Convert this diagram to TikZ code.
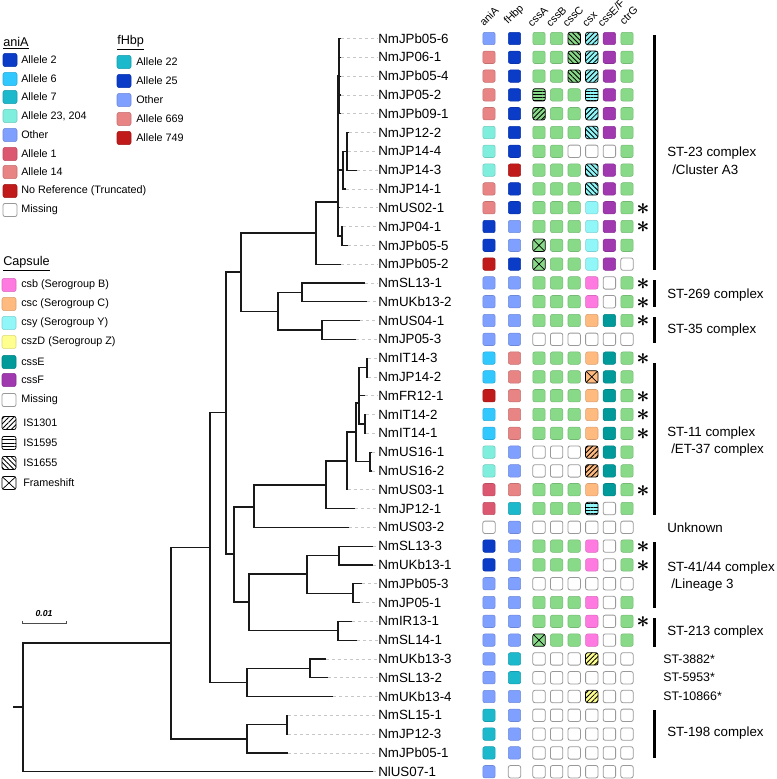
\documentclass[tikz,border=0pt]{standalone}
\usepackage{fontspec}
\setmainfont{Liberation Sans}
\usetikzlibrary{patterns.meta}
\definecolor{cG}{HTML}{88DA88}
\definecolor{cDB}{HTML}{0A3CC8}
\definecolor{cA6}{HTML}{30C8FF}
\definecolor{cA7}{HTML}{1CB8CC}
\definecolor{cAq}{HTML}{80EEDD}
\definecolor{cLB}{HTML}{80A0FF}
\definecolor{cA1}{HTML}{DC5870}
\definecolor{cA14}{HTML}{E88484}
\definecolor{cRd}{HTML}{C01A1A}
\definecolor{cMg}{HTML}{FF7AE0}
\definecolor{cOr}{HTML}{FFBA80}
\definecolor{cCy}{HTML}{90F6F8}
\definecolor{cYe}{HTML}{FFFF90}
\definecolor{cTe}{HTML}{009A9A}
\definecolor{cPu}{HTML}{A038B0}
\newcommand\rowy[1]{38.5+(#1-1)*18.8}
\newcommand\mrow[9]{%
  \pgfmathsetmacro\ry{\rowy{#1}}%
  \node[cell,#2] (a#1) at (489,\ry) {};
  \node[cell,#3] (f#1) at (514.5,\ry) {};
  \node[cell,#4] (k#1a) at (539,\ry) {};
  \node[cell,#5] (k#1b) at (556.6,\ry) {};
  \node[cell,#6] (k#1c) at (574.2,\ry) {};
  \node[cell,#7] (k#1d) at (591.8,\ry) {};
  \node[cell,#8] (k#1e) at (609.4,\ry) {};
  \node[cell,#9] (k#1f) at (627,\ry) {};
}
\newcommand\lrow[3]{%
  \pgfmathsetmacro\ry{\rowy{#1}}%
  \coordinate (t#1) at (#3,\ry);
  \node[lbl] (l#1) at (378,\ry) {#2};
  \draw[leader] (t#1) -- (l#1.west);
}
\newcommand\astr[1]{%
  \pgfmathsetmacro\ry{\rowy{#1}}%
  \node[starn] (s#1) at (643,\ry+1) {$\ast$};
}
\begin{document}
\begin{tikzpicture}[x=0.75pt,y=-0.75pt,
  cellst/.style={#1},
  cell/.style={rectangle,rounded corners=1.6pt,minimum size=9.3pt,inner sep=0pt,line width=0.4pt},
  colcell/.style={fill=#1,draw=#1!85!black},
  gr/.style={colcell=cG}, db/.style={colcell=cDB}, a6/.style={colcell=cA6},
  a7/.style={colcell=cA7}, aq/.style={colcell=cAq}, lb/.style={colcell=cLB},
  a1/.style={colcell=cA1}, a14/.style={colcell=cA14}, rd/.style={colcell=cRd},
  mg/.style={colcell=cMg}, or/.style={colcell=cOr}, cy/.style={colcell=cCy},
  ye/.style={colcell=cYe}, te/.style={colcell=cTe}, pu/.style={colcell=cPu},
  ms/.style={fill=white,draw=black!40,line width=0.6pt},
  ia/.style={draw=black,line width=0.55pt,postaction={pattern={Lines[angle=45,distance=2.6pt,line width=0.65pt]}}},
  ib/.style={draw=black,line width=0.55pt,postaction={pattern={Lines[angle=0,distance=2.4pt,line width=0.65pt]}}},
  ic/.style={draw=black,line width=0.55pt,postaction={pattern={Lines[angle=-45,distance=2.6pt,line width=0.65pt]}}},
  fs/.style={draw=black,line width=0.55pt,path picture={\draw[line width=0.55pt] (path picture bounding box.north west) -- (path picture bounding box.south east) (path picture bounding box.north east) -- (path picture bounding box.south west);}},
  lbl/.style={anchor=west,inner sep=0pt,font=\fontsize{10}{12}\selectfont},
  leader/.style={draw=black!22,line width=0.4pt,dash pattern=on 2.5pt off 2pt},
  branch/.style={draw=black!90,line width=0.9pt},
  starn/.style={inner sep=0pt,font=\fontsize{16}{16}\selectfont\boldmath},
  hdr/.style={anchor=base west,rotate=45,inner sep=0pt,font=\fontsize{8}{9}\selectfont},
  lbox/.style={rectangle,rounded corners=1.5pt,minimum width=10.5pt,minimum height=9.8pt,inner sep=0pt,line width=0.4pt},
  ltx/.style={anchor=west,inner sep=0pt,font=\fontsize{8.1}{10}\selectfont},
  ttl/.style={anchor=west,inner sep=0pt,font=\fontsize{9.5}{11}\selectfont},
  grp/.style={anchor=west,inner sep=0pt,font=\fontsize{10}{12}\selectfont},
  grps/.style={anchor=west,inner sep=0pt,font=\fontsize{9.3}{11}\selectfont},
  bar/.style={line width=2.3pt}
]
\useasboundingbox (0,0) rectangle (777,779);

% ---------- legend aniA ----------
\node[ttl] (tA) at (3,43) {\underline{aniA}};
\foreach \y/\s/\t [count=\i] in {60/db/Allele 2,79/a6/Allele 6,97/a7/Allele 7,116/aq/{Allele 23, 204},135/lb/Other,154/a1/Allele 1,172/a14/Allele 14,191/rd/No Reference (Truncated),210/ms/Missing}{
  \node[lbox,cellst/.expand once=\s] (la\i) at (10,\y) {};
  \node[ltx] (lat\i) at (21,\y) {\t};
}
% ---------- legend fHbp ----------
\node[ttl] (tF) at (117,43) {\underline{fHbp}};
\foreach \y/\s/\t [count=\i] in {62/a7/Allele 22,81/db/Allele 25,100/lb/Other,119/a14/Allele 669,138/rd/Allele 749}{
  \node[lbox,cellst/.expand once=\s] (lf\i) at (124,\y) {};
  \node[ltx] (lft\i) at (136,\y) {\t};
}
% ---------- legend capsule ----------
\node[ttl] (tC) at (3,264) {\underline{Capsule}};
\foreach \y/\s/\t [count=\i] in {285/mg/csb (Serogroup B),304/or/csc (Serogroup C),323/cy/csy (Serogroup Y),342/ye/cszD (Serogroup Z),362/te/cssE,380/pu/cssF,400/ms/Missing}{
  \node[lbox,cellst/.expand once=\s] (lc\i) at (9,\y) {};
  \node[ltx] (lct\i) at (21,\y) {\t};
}
\foreach \y/\s/\t [count=\i] in {423/ia/IS1301,443/ib/IS1595,463/ic/IS1655,483/fs/Frameshift}{
  \node[lbox,fill=white,cellst/.expand once=\s] (lp\i) at (9,\y) {};
  \node[ltx] (lpt\i) at (23,\y) {\t};
}

% ---------- scale bar ----------
\coordinate (sb1) at (22,620.5);
\coordinate (sb2) at (66,620.5);
\draw[black!70,line width=0.5pt] (sb1) -- ++(0,2.5) -| (sb2);
\node[inner sep=0pt,font=\fontsize{6.5}{8}\selectfont\bfseries\itshape] (sbl) at (44,614) {0.01};

% ---------- headers ----------
\node[hdr] (h1) at (484,27) {aniA};
\node[hdr] (h2) at (508,25) {fHbp};
\node[hdr] (h3) at (532,27.5) {cssA};
\node[hdr] (h4) at (550.5,27.5) {cssB};
\node[hdr] (h5) at (567,27.5) {cssC};
\node[hdr] (h6) at (586.5,27.5) {csx};
\node[hdr] (h7) at (602,27.5) {cssE/F};
\node[hdr] (h8) at (624,25.5) {ctrG};

% ---------- leaves ----------
\lrow{1}{NmJPb05-6}{341}
\lrow{2}{NmJP06-1}{341}
\lrow{3}{NmJPb05-4}{341}
\lrow{4}{NmJP05-2}{341}
\lrow{5}{NmJPb09-1}{341}
\lrow{6}{NmJP12-2}{349}
\lrow{7}{NmJP14-4}{348}
\lrow{8}{NmJP14-3}{357}
\lrow{9}{NmJP14-1}{346}
\lrow{10}{NmUS02-1}{340}
\lrow{11}{NmJP04-1}{343}
\lrow{12}{NmJPb05-5}{348}
\lrow{13}{NmJPb05-2}{341}
\lrow{14}{NmSL13-1}{365}
\lrow{15}{NmUKb13-2}{367}
\lrow{16}{NmUS04-1}{360}
\lrow{17}{NmJP05-3}{356}
\lrow{18}{NmIT14-3}{368}
\lrow{19}{NmJP14-2}{368}
\lrow{20}{NmFR12-1}{365}
\lrow{21}{NmIT14-2}{366}
\lrow{22}{NmIT14-1}{366}
\lrow{23}{NmUS16-1}{372}
\lrow{24}{NmUS16-2}{372}
\lrow{25}{NmUS03-1}{348}
\lrow{26}{NmJP12-1}{355}
\lrow{27}{NmUS03-2}{349}
\lrow{28}{NmSL13-3}{373}
\lrow{29}{NmUKb13-1}{373}
\lrow{30}{NmJPb05-3}{362}
\lrow{31}{NmJP05-1}{360}
\lrow{32}{NmIR13-1}{352}
\lrow{33}{NmSL14-1}{357}
\lrow{34}{NmUKb13-3}{326}
\lrow{35}{NmSL13-2}{328}
\lrow{36}{NmUKb13-4}{333}
\lrow{37}{NmSL15-1}{288}
\lrow{38}{NmJP12-3}{288}
\lrow{39}{NmJPb05-1}{288}
\lrow{40}{NlUS07-1}{373}

% ---------- internal nodes ----------
\coordinate (rt0) at (13,707);
\coordinate (root) at (23,707);
\coordinate (N171) at (171,643);
\coordinate (ST198) at (247,739);
\coordinate (N287) at (287,724.7);
\coordinate (N210) at (210,547.5);
\coordinate (N247) at (247,682.4);
\coordinate (N310) at (310,668.3);
\coordinate (N226) at (226,412.5);
\coordinate (N241) at (241,272);
\coordinate (N278) at (278,311.6);
\coordinate (ST269) at (302,292.3);
\coordinate (ST35) at (322,329.9);
\coordinate (A3root) at (316,233);
\coordinate (A3main) at (338,202);
\coordinate (A3top) at (339,76);
\coordinate (Pn) at (343,170);
\coordinate (Qn) at (347,151.3);
\coordinate (Rn) at (342,235.9);
\coordinate (N234) at (234,554);
\coordinate (N254) at (254,507);
\coordinate (N326) at (326,485);
\coordinate (N347) at (347,461);
\coordinate (N356) at (356,432);
\coordinate (N359) at (359,403);
\coordinate (N367) at (367,367.5);
\coordinate (IT14) at (365,423.9);
\coordinate (US16) at (370,461.5);
\coordinate (N249) at (249,602);
\coordinate (ST41) at (307,574);
\coordinate (N339) at (339,555.5);
\coordinate (N353) at (353,593.1);
\coordinate (ST213) at (338,630.7);

\draw[branch] (rt0) -- (root);
\foreach \p/\c in {root/N171,root/t40,N171/N210,N171/ST198,ST198/N287,ST198/t39,N287/t37,N287/t38,
  N210/N226,N210/N247,N247/N310,N247/t36,N310/t34,N310/t35,N226/N241,N226/N234,
  N241/A3root,N241/N278,N278/ST269,N278/ST35,ST269/t14,ST269/t15,ST35/t16,ST35/t17,
  A3root/A3main,A3root/t13,A3main/A3top,A3main/Pn,A3main/t10,A3main/Rn,
  A3top/t1,A3top/t2,A3top/t3,A3top/t4,A3top/t5,Pn/Qn,Pn/t9,Qn/t6,Qn/t7,Qn/t8,Rn/t11,Rn/t12,
  N234/N254,N234/N249,N254/N326,N254/t27,N326/N347,N326/t26,N347/N356,N347/t25,
  N356/N359,N356/US16,N359/N367,N359/t20,N359/IT14,N367/t18,N367/t19,IT14/t21,IT14/t22,
  US16/t23,US16/t24,N249/ST41,N249/ST213,ST41/N339,ST41/N353,N339/t28,N339/t29,
  N353/t30,N353/t31,ST213/t32,ST213/t33}{
  \draw[branch] (\p) |- (\c);
}

% ---------- matrix ----------
\mrow{1}{lb}{db}{gr}{gr}{gr,ic}{cy,ia}{pu}{gr}
\mrow{2}{a14}{db}{gr}{gr}{gr,ic}{cy,ia}{pu}{gr}
\mrow{3}{a14}{db}{gr}{gr}{gr,ic}{cy,ia}{pu}{gr}
\mrow{4}{a14}{db}{gr,ib}{gr}{gr}{cy,ib}{pu}{gr}
\mrow{5}{a14}{db}{gr,ia}{gr}{gr}{cy,ia}{pu}{gr}
\mrow{6}{aq}{db}{gr}{gr}{gr}{cy,ic}{pu}{gr}
\mrow{7}{aq}{db}{gr}{gr}{ms}{ms}{ms}{gr}
\mrow{8}{aq}{rd}{gr}{gr}{gr}{cy,ic}{pu}{gr}
\mrow{9}{a14}{db}{gr}{gr}{gr}{cy,ic}{pu}{gr}
\mrow{10}{a14}{db}{gr}{gr}{gr}{cy}{pu}{gr}
\mrow{11}{db}{lb}{gr}{gr}{gr}{cy}{pu}{gr}
\mrow{12}{db}{lb}{gr,fs}{gr}{gr}{cy}{pu}{gr}
\mrow{13}{rd}{db}{gr,fs}{gr}{gr}{cy}{pu}{ms}
\mrow{14}{lb}{lb}{gr}{gr}{gr}{mg}{ms}{gr}
\mrow{15}{lb}{lb}{gr}{gr}{gr}{mg}{ms}{gr}
\mrow{16}{lb}{lb}{gr}{gr}{gr}{or}{te}{gr}
\mrow{17}{lb}{lb}{ms}{ms}{ms}{ms}{ms}{ms}
\mrow{18}{a6}{a14}{gr}{gr}{gr}{or}{te}{gr}
\mrow{19}{a6}{a14}{gr}{gr}{gr}{or,fs}{te}{gr}
\mrow{20}{rd}{a14}{gr}{gr}{gr}{or}{te}{gr}
\mrow{21}{a6}{a14}{gr}{gr}{gr}{or}{te}{gr}
\mrow{22}{a6}{a14}{gr}{gr}{gr}{or}{te}{gr}
\mrow{23}{aq}{lb}{ms}{ms}{ms}{or,ia}{te}{gr}
\mrow{24}{aq}{lb}{ms}{ms}{ms}{or,ia}{te}{gr}
\mrow{25}{a1}{a14}{gr}{gr}{gr}{or}{te}{gr}
\mrow{26}{a1}{a7}{gr}{gr}{gr}{cy,ib}{ms}{gr}
\mrow{27}{ms}{lb}{ms}{ms}{ms}{ms}{ms}{ms}
\mrow{28}{db}{lb}{gr}{gr}{gr}{mg}{ms}{gr}
\mrow{29}{db}{lb}{gr}{gr}{gr}{mg}{ms}{gr}
\mrow{30}{lb}{lb}{ms}{ms}{ms}{ms}{ms}{ms}
\mrow{31}{lb}{lb}{gr}{gr}{gr}{mg}{ms}{gr}
\mrow{32}{lb}{lb}{gr}{gr}{gr}{mg}{ms}{gr}
\mrow{33}{lb}{lb}{gr,fs}{gr}{gr}{mg}{ms}{gr}
\mrow{34}{lb}{a7}{ms}{ms}{ms}{ye,ia}{ms}{ms}
\mrow{35}{lb}{a7}{ms}{ms}{ms}{ms}{ms}{ms}
\mrow{36}{lb}{lb}{ms}{ms}{ms}{ye,ia}{ms}{ms}
\mrow{37}{a7}{lb}{ms}{ms}{ms}{ms}{ms}{ms}
\mrow{38}{a7}{lb}{ms}{ms}{ms}{ms}{ms}{ms}
\mrow{39}{a7}{lb}{ms}{ms}{ms}{ms}{ms}{ms}
\mrow{40}{lb}{ms}{ms}{ms}{ms}{ms}{ms}{ms}

\foreach \r in {10,11,14,15,16,18,20,21,22,25,28,29,32}{\astr{\r}}

% ---------- groups ----------
\draw[bar] (654.5,35) coordinate (b1a) -- (654.5,270) coordinate (b1b);
\draw[bar] (654.5,280) coordinate (b2a) -- (654.5,307) coordinate (b2b);
\draw[bar] (654.5,317) coordinate (b3a) -- (654.5,343) coordinate (b3b);
\draw[bar] (654.5,363) coordinate (b4a) -- (654.5,515) coordinate (b4b);
\draw[bar] (654.5,542) coordinate (b5a) -- (654.5,608) coordinate (b5b);
\draw[bar] (654.5,618) coordinate (b6a) -- (654.5,647) coordinate (b6b);
\draw[bar] (654.5,710) coordinate (b7a) -- (654.5,758) coordinate (b7b);
\node[grp] (g1) at (667,153) {ST-23 complex};
\node[grp] (g1b) at (672,170) {/Cluster A3};
\node[grp] (g2) at (667,295) {ST-269 complex};
\node[grp] (g3) at (667,330) {ST-35 complex};
\node[grp] (g4) at (667,433) {ST-11 complex};
\node[grp] (g4b) at (671,450) {/ET-37 complex};
\node[grp] (g5) at (667,527.3) {Unknown};
\node[grp] (g6) at (667,568) {ST-41/44 complex};
\node[grp] (g6b) at (671,585) {/Lineage 3};
\node[grp] (g7) at (667,632) {ST-213 complex};
\node[grps] (g8) at (663,658.9) {ST-3882*};
\node[grps] (g9) at (663,677.7) {ST-5953*};
\node[grps] (g10) at (663,696.5) {ST-10866*};
\node[grp] (g11) at (667,733) {ST-198 complex};
\end{tikzpicture}
\end{document}
